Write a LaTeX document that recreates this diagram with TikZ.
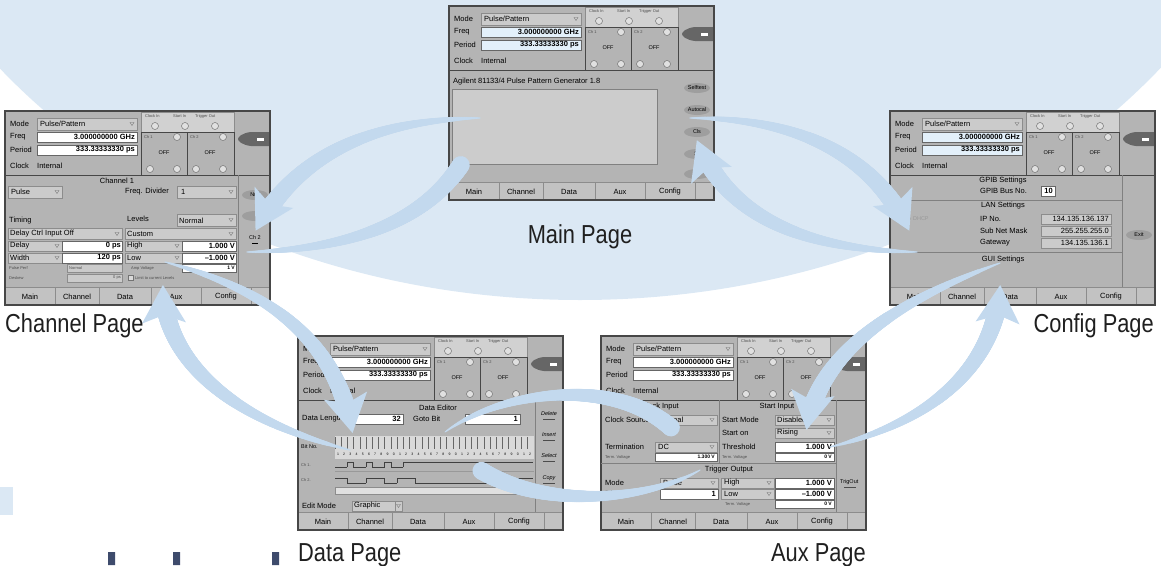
\documentclass[tikz,border=0pt]{standalone}
\usepackage{fontspec}
\setmainfont{Liberation Sans}
\newfontfamily\pagefont[FakeStretch=0.84]{Liberation Sans}
\usetikzlibrary{decorations.markings}

\definecolor{bowlblue}{HTML}{DBE8F4}
\definecolor{arrowblue}{HTML}{C3D9EE}
\definecolor{panelgray}{HTML}{B4B4B4}
\definecolor{fieldgray}{HTML}{CBCBCB}
\definecolor{framegray}{HTML}{474747}
\definecolor{paleblue}{HTML}{E3F0FA}
\definecolor{logoblue}{HTML}{3E4B6C}

\tikzset{
	uitext/.style={font=\fontsize{7.5}{8}\selectfont, inner sep=0pt, anchor=west},
	uititle/.style={font=\fontsize{7.5}{8}\selectfont, inner sep=0pt},
	uismall/.style={font=\fontsize{5.5}{6}\selectfont, inner sep=0pt, anchor=west},
	uitiny/.style={font=\fontsize{4}{5}\selectfont, inner sep=0pt, anchor=west, text=black!70},
	uivalue/.style={font=\bfseries\fontsize{7.5}{8}\selectfont, inner sep=0pt, anchor=east},
	field/.style={fill=fieldgray, draw=black!45, line width=0.4pt},
	valbox/.style={fill=white, draw=black!60, line width=0.4pt},
	lamp/.style={draw=black!55, fill=black!12, line width=0.5pt},
	pagelabel/.style={font=\pagefont\fontsize{26}{28}\selectfont, inner sep=0pt, text=black!88},
	taper/.style={
		postaction={decorate, decoration={markings,
			mark=between positions 0 and -28pt step 0.7pt with {
				\pgfmathsetmacro\taperr{0.6+9*pow(\pgfkeysvalueof{/pgf/decoration/mark info/distance from start}/\pgfdecoratedpathlength,0.75)}
				\fill[arrowblue] (0,0) circle[radius=\taperr pt];
			}}},
		postaction={decorate, decoration={markings,
			mark=at position 1 with {
				\fill[arrowblue] (3,0) -- (-35,22) -- (-27,0) -- (-35,-22) -- cycle;
			}}}}
}

% small pull-down mark of a field
\newcommand{\dropdown}[2]{\draw[black!55, line width=0.3pt] (#1-2,#2-1.5) -- (#1+2,#2-1.5) -- (#1,#2+1.5) -- cycle;}
% oval soft key
\newcommand{\softkey}[3]{%
	\fill[black!38] (#1,#2) ellipse[x radius=13, y radius=5];
	\node[uismall, anchor=center] at (#1,#2) {#3};}
% frame, settings and tabs shared by every page
\newcommand{\uiheader}[1]{%
	\fill[panelgray] (0,0) rectangle (265,194);
	% settings
	\node[uitext] at (5,13) {Mode};
	\draw[field] (32,7) rectangle (132,19);
	\node[uitext] at (35,13) {Pulse/Pattern};
	\dropdown{127}{13}
	\node[uitext] at (5,26) {Freq};
	\draw[valbox, fill=#1] (32,21) rectangle (132,31);
	\node[uivalue] at (130,26) {3.000000000 GHz};
	\node[uitext] at (5,39) {Period};
	\draw[valbox, fill=#1] (32,34) rectangle (132,44);
	\node[uivalue] at (130,39) {333.33333330 ps};
	\node[uitext] at (5,55) {Clock};
	\node[uitext] at (32,55) {Internal};
	% connectors
	\draw[field, fill=black!18] (136,1) rectangle (229,21);
	\node[uitiny] at (140,5) {Clock In};
	\node[uitiny] at (168,5) {Start In};
	\node[uitiny] at (190,5) {Trigger Out};
	\foreach \lx in {150,180,210} \draw[lamp] (\lx,15) circle[radius=3.5pt];
	\draw[framegray, line width=0.5pt] (136,21) rectangle (229,64) (182,21) -- (182,64);
	\foreach \cx/\cname in {136/Ch 1, 182/Ch 2} {
		\node[uitiny] at (\cx+3,26) {\cname};
		\draw[lamp] (\cx+36,26) circle[radius=3.5pt];
		\node[uismall, anchor=center] at (\cx+23,42) {OFF};
		\draw[lamp] (\cx+9,58) circle[radius=3.5pt] (\cx+36,58) circle[radius=3.5pt];
	}
	% local key
	\fill[black!60] (265,21) -- (246,21) .. controls (237,22) and (233,26) .. (233,28) .. controls (233,30) and (237,34) .. (246,35) -- (265,35) -- cycle;
	\fill[white] (252,27) rectangle (259,30);
	\draw[framegray, line width=0.6pt] (0,64) -- (265,64);
	% tabs
	\fill[black!24] (0,176) rectangle (265,194);
	\draw[black!45] (0,176) -- (265,176);
	\foreach \tx in {50,94,146,196,246} \draw[black!45] (\tx,176) -- (\tx,194);
	\foreach \tx/\tname in {25/Main,72/Channel,120/Data,171/Aux,221/Config}
		\node[uititle] at (\tx,186) {\tname};
	\draw[framegray, line width=1.2pt] (0,0) rectangle (265,194);
}

\begin{document}
\begin{tikzpicture}[x=1pt, y=-1pt]
	\useasboundingbox (0,0) rectangle (1161,565);
	\clip (0,0) rectangle (1161,565);

	% Background
	\fill[bowlblue] (580,-300) ellipse[x radius=735, y radius=600];
	\fill[bowlblue] (0,487) rectangle (13,515);
	\fill[logoblue] (108,552) rectangle (115,565) (173,552) rectangle (180,565) (272,552) rectangle (279,565);

	% Main page
	\begin{scope}[shift={(449,6)}]
		\uiheader{paleblue}
		\node[uitext] at (4,76) {Agilent 81133/4 Pulse Pattern Generator 1.8};
		\draw[black!50, fill=black!20] (3,83) rectangle (208,158);
		\softkey{248}{82}{Selftest}
		\softkey{248}{104}{Autocal}
		\softkey{248}{126}{Cls}
		\softkey{248}{148}{St}
		\softkey{248}{168}{}
		\coordinate (main-out-w) at (31,112);
		\coordinate (main-in-w) at (24,136);
		\coordinate (main-out-e) at (241,112);
		\coordinate (main-in-e) at (249,137);
	\end{scope}

	% Channel page
	\begin{scope}[shift={(5,111)}]
		\uiheader{white}
		\node[uititle] at (112,70) {Channel 1};
		\draw[field] (3,75) rectangle (57,87);
		\node[uitext] at (6,81) {Pulse};
		\dropdown{52}{81}
		\node[uitext] at (120,81) {Freq. Divider};
		\draw[field] (172,75) rectangle (231,87);
		\node[uitext] at (176,81) {1};
		\dropdown{226}{81}
		\node[uitext] at (4,110) {Timing};
		\node[uitext] at (122,108) {Levels};
		\draw[field] (172,103) rectangle (231,115);
		\node[uitext] at (174,110) {Normal};
		\dropdown{226}{109}
		\draw[field] (3,117) rectangle (117,128) (120,117) rectangle (231,128);
		\node[uitext] at (5,123) {Delay Ctrl Input Off};
		\node[uitext] at (122,123) {Custom};
		\dropdown{112}{123} \dropdown{226}{123}
		\foreach \ry/\tl/\tv/\ll/\lv in {135/Delay/0 ps/High/1.000 V, 147/Width/120 ps/Low/--1.000 V} {
			\draw[field] (3,\ry-5) rectangle (57,\ry+5) (120,\ry-5) rectangle (177,\ry+5);
			\draw[valbox] (57,\ry-5) rectangle (117,\ry+5) (177,\ry-5) rectangle (231,\ry+5);
			\node[uitext] at (5,\ry) {\tl};
			\node[uitext] at (122,\ry) {\ll};
			\node[uivalue] at (116,\ry) {\tv};
			\node[uivalue] at (230,\ry) {\lv};
			\dropdown{52}{\ry} \dropdown{172}{\ry}
		}
		\node[uitiny] at (4,157) {Pulse Perf};
		\draw[field] (62,153) rectangle (117,161);
		\node[uitiny] at (64,157) {Normal};
		\node[uitiny] at (126,157) {Amp Voltage};
		\draw[valbox] (177,153) rectangle (231,161);
		\node[uivalue, font=\bfseries\fontsize{5}{6}\selectfont] at (230,157) {1 V};
		\node[uitiny] at (4,167) {Deskew};
		\draw[field] (62,163) rectangle (117,171);
		\node[uitiny, anchor=east] at (116,167) {0 ps};
		\draw[black!55, fill=black!15] (123,164) rectangle (128,169);
		\node[uitiny] at (130,167) {Limit to current Levels};
		\draw[black!50] (233,64) -- (233,176);
		\softkey{250}{84}{Null}
		\softkey{250}{105}{}
		\node[uismall, anchor=center] at (250,127) {Ch 2};
		\draw (247,132) -- (253,132);
		\coordinate (chan-in-e) at (252,117);
		\coordinate (chan-out-e) at (242,141);
		\coordinate (chan-out-s) at (160,151);
		\coordinate (chan-in-s) at (158,177);
	\end{scope}

	% Config page
	\begin{scope}[shift={(890,111)}]
		\uiheader{paleblue}
		\draw[black!50] (0,89) -- (232,89) (0,141) -- (232,141) (232,64) -- (232,176);
		\node[uititle] at (113,70) {GPIB Settings};
		\node[uitext] at (90,80) {GPIB Bus No.};
		\draw[valbox] (151,75) rectangle (165,85);
		\node[uivalue] at (163,80) {10};
		\node[uititle] at (113,95) {LAN Settings};
		\node[uismall, text=black!40] at (3,108) {Disable DHCP};
		\foreach \ry/\lname/\lval in {108/IP No./134.135.136.137, 120/Sub Net Mask/255.255.255.0, 132/Gateway/134.135.136.1} {
			\node[uitext] at (90,\ry) {\lname};
			\draw[field] (151,\ry-5) rectangle (221,\ry+5);
			\node[uitext, anchor=east] at (219,\ry) {\lval};
		}
		\node[uititle] at (113,149) {GUI Settings};
		\softkey{249}{124}{Exit}
		\coordinate (conf-in-w) at (18,117);
		\coordinate (conf-out-w) at (27,141);
		\coordinate (conf-in-s) at (110,177);
		\coordinate (conf-out-s) at (110,152);
	\end{scope}

	% Data page
	\begin{scope}[shift={(298,336)}]
		\uiheader{white}
		\draw[black!50] (237,64) -- (237,176);
		\node[uititle] at (140,72) {Data Editor};
		\node[uitext] at (4,83) {Data Length};
		\draw[valbox] (57,78) rectangle (105,88);
		\node[uivalue] at (103,83) {32};
		\node[uitext] at (115,83) {Goto Bit};
		\draw[valbox] (167,78) rectangle (222,88);
		\node[uivalue] at (220,83) {1};
		\node[uismall] at (3,111) {Bit No.};
		\fill[black!15] (37,100) rectangle (236,123);
		\foreach \i in {0,...,31} {
			\pgfmathtruncatemacro\bitno{mod(\i+1,10)}
			\draw[black!60, line width=0.3pt] ({37+\i*6.2},101) -- ({37+\i*6.2},113);
			\node[font=\fontsize{3.5}{4}\selectfont, inner sep=0pt] at ({40+\i*6.2},118) {\bitno};
		}
		\node[uitiny] at (3,129) {Ch 1.};
		\foreach \b [count=\i from 0, remember=\b as \lastb (initially 0)] in {0,0,1,0,0,1,0,0,1,0,0,1,1,1,1,1,1,1,1,1,1,1,1,1,1,1,1,1,1,1,1,1}
			\draw[black!75, line width=0.5pt] ({37+\i*6.2},131-5*\lastb) -- ({37+\i*6.2},131-5*\b) -- ++(6.2,0);
		\draw[black!40] (37,135) -- (236,135);
		\node[uitiny] at (3,144) {Ch 2.};
		\foreach \b [count=\i from 0, remember=\b as \lastb (initially 1)] in {1,1,0,0,0,1,1,1,0,0,1,1,1,0,0,0,0,0,0,0,0,0,0,0,0,0,0,0,1,1,1,1}
			\draw[black!75, line width=0.5pt] ({37+\i*6.2},147-5*\lastb) -- ({37+\i*6.2},147-5*\b) -- ++(6.2,0);
		\draw[black!45, fill=black!12] (37,151) rectangle (236,158);
		\node[uitext] at (4,170) {Edit Mode};
		\draw[field] (54,165) rectangle (97,175) (97,165) rectangle (104,175);
		\node[uitext] at (56,170) {Graphic};
		\dropdown{100.5}{170}
		\foreach \ky/\kname in {78/Delete, 99/Insert, 120/Select, 142/Copy} {
			\node[uismall, anchor=center, font=\itshape\fontsize{5.5}{6}\selectfont] at (251,\ky) {\kname};
			\draw[black!70] (245,\ky+5) -- (257,\ky+5);
		}
		\coordinate (data-in-n) at (54,94);
		\coordinate (data-out-w) at (52,114);
		\coordinate (data-out-e) at (147,96);
		\coordinate (data-in-e) at (162,119);
	\end{scope}

	% Aux page
	\begin{scope}[shift={(601,336)}]
		\uiheader{white}
		\draw[black!50] (0,127) -- (235,127) (118,64) -- (118,127) (235,64) -- (235,176);
		\node[uititle] at (59,71) {Clock Input};
		\node[uitext] at (4,84) {Clock Source};
		\draw[field] (54,79) rectangle (116,89);
		\node[uitext] at (57,84) {Internal};
		\dropdown{111}{84}
		\node[uitext] at (4,111) {Termination};
		\draw[field] (54,106) rectangle (116,116);
		\node[uitext] at (57,111) {DC};
		\dropdown{111}{111}
		\node[uitiny] at (4,121) {Term. Voltage};
		\draw[valbox] (54,117) rectangle (116,125);
		\node[uivalue, font=\bfseries\fontsize{5}{6}\selectfont] at (114,121) {1.300 V};
		\node[uititle] at (176,71) {Start Input};
		\node[uitext] at (121,84) {Start Mode};
		\draw[field] (174,79) rectangle (233,89);
		\node[uitext] at (176,84) {Disabled};
		\dropdown{228}{84}
		\node[uitext] at (121,97) {Start on};
		\draw[field] (174,92) rectangle (233,102);
		\node[uitext] at (176,97) {Rising};
		\dropdown{228}{97}
		\node[uitext] at (121,111) {Threshold};
		\draw[valbox] (174,106) rectangle (233,116);
		\node[uivalue] at (231,111) {1.000 V};
		\node[uitiny] at (121,121) {Term. Voltage};
		\draw[valbox] (174,117) rectangle (233,125);
		\node[uivalue, font=\bfseries\fontsize{5}{6}\selectfont] at (231,121) {0 V};
		\node[uititle] at (128,134) {Trigger Output};
		\node[uitext] at (4,147) {Mode};
		\draw[field] (59,142) rectangle (117,152);
		\node[uitext] at (62,147) {Pulse};
		\dropdown{112}{147}
		\node[uitext] at (4,158) {Divider};
		\draw[valbox] (59,153) rectangle (117,163);
		\node[uivalue] at (115,158) {1};
		\draw[field] (120,142) rectangle (173,152) (120,153) rectangle (173,163);
		\node[uitext] at (123,147) {High};
		\node[uitext] at (123,158) {Low};
		\dropdown{168}{147} \dropdown{168}{158}
		\draw[valbox] (174,142) rectangle (233,152) (174,153) rectangle (233,163);
		\node[uivalue] at (231,147) {1.000 V};
		\node[uivalue] at (231,158) {--1.000 V};
		\node[uitiny] at (124,168) {Term. Voltage};
		\draw[valbox] (174,164) rectangle (233,172);
		\node[uivalue, font=\bfseries\fontsize{5}{6}\selectfont] at (231,168) {0 V};
		\node[uismall] at (239,146) {TrigOut};
		\draw[black!70] (243,151) -- (255,151);
		\coordinate (aux-in-w) at (87,111);
		\coordinate (aux-out-w) at (99,134);
		\coordinate (aux-out-e) at (229,111);
		\coordinate (aux-in-n) at (206,91);
	\end{scope}

	% Arrows between the pages
	\path[taper] (main-out-w) .. controls +(-100,2) and +(43,-78) .. (chan-in-e);
	\path[taper] (chan-out-e) .. controls +(103,-2) and +(-33,78) .. (main-in-w);
	\path[taper] (main-out-e) .. controls +(100,0) and +(-38,-78) .. (conf-in-w);
	\path[taper] (conf-out-w) .. controls +(-107,-2) and +(32,77) .. (main-in-e);
	\path[taper] (chan-out-s) .. controls +(105,28) and +(-17,-90) .. (data-in-n);
	\path[taper] (data-out-w) .. controls +(-120,-30) and +(2,72) .. (chan-in-s);
	\path[taper] (data-out-e) .. controls +(65,-47) and +(-48,-72) .. (aux-in-w);
	\path[taper] (aux-out-w) .. controls +(-60,35) and +(60,55) .. (data-in-e);
	\path[taper] (aux-out-e) .. controls +(110,-27) and +(-5,72) .. (conf-in-s);
	\path[taper] (conf-out-s) .. controls +(-100,37) and +(13,-77) .. (aux-in-n);

	% Page names
	\node[pagelabel, anchor=base] (main-label) at (580,243) {Main Page};
	\node[pagelabel, anchor=base west] (chan-label) at (5,332) {Channel Page};
	\node[pagelabel, anchor=base east] (conf-label) at (1154,332) {Config Page};
	\node[pagelabel, anchor=base west] (data-label) at (298,561) {Data Page};
	\node[pagelabel, anchor=base east] (aux-label) at (866,561) {Aux Page};
\end{tikzpicture}
\end{document}
